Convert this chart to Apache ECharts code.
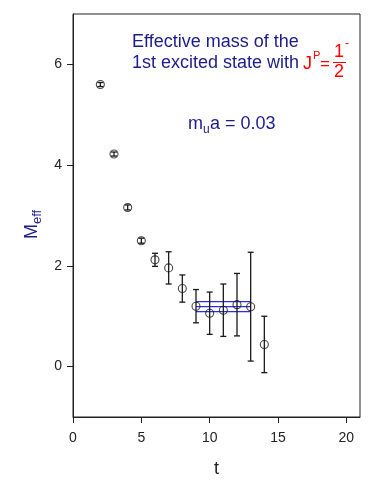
<!DOCTYPE html>
<html>
<head>
<meta charset="utf-8">
<script src="https://cdn.jsdelivr.net/npm/echarts@6/dist/echarts.min.js"></script>
<style>
  html, body { margin: 0; padding: 0; background: #fff; }
  #main { width: 382px; height: 491px; }
</style>
</head>
<body>
<div id="main"></div>
<script>
// effective mass data
var tVals = [2, 3, 4, 5, 6, 7, 8, 9, 10, 11, 12, 13, 14];
var meff = [5.60, 4.22, 3.16, 2.50, 2.12, 1.96, 1.55, 1.20, 1.06, 1.12, 1.23, 1.19, 0.44];
var errs = [0.04, 0.04, 0.05, 0.05, 0.13, 0.32, 0.27, 0.33, 0.42, 0.52, 0.62, 1.08, 0.56];

// plateau fit
var fitRange = [9, 13];
var fitMass = 1.19;
var fitErr = 0.10;

var xTicks = [0, 5, 10, 15, 20];
var yTicks = [0, 2, 4, 6];

var navy = '#1c1c8c';
var red = '#ff0000';
var ink = '#222';
var fontFam = '"Liberation Sans", Arial, sans-serif';

var points = tVals.map(function (t, i) { return [t, meff[i]]; });
var bars = tVals.map(function (t, i) { return [t, meff[i] - errs[i], meff[i] + errs[i]]; });

function bandLine(v) {
    return {
        type: 'line',
        data: [[fitRange[0], v], [fitRange[1], v]],
        symbol: 'none',
        silent: true,
        lineStyle: { color: '#2e2ee8', width: 1.2 },
        z: 1
    };
}

var myChart = echarts.init(document.getElementById('main'));

var option = {
    animation: false,
    grid: {
        left: 73, right: 22, top: 14, bottom: 74,
        show: true, borderColor: ink, borderWidth: 1, backgroundColor: 'transparent'
    },
    xAxis: {
        type: 'value', min: 0, max: 21, interval: 1,
        name: 't', nameLocation: 'middle', nameGap: 43,
        nameTextStyle: { color: ink, fontSize: 18, fontFamily: fontFam },
        axisLine: { onZero: false, lineStyle: { color: ink } },
        axisTick: { show: true, length: 6, customValues: xTicks, lineStyle: { color: ink } },
        axisLabel: { customValues: xTicks, color: ink, fontSize: 14, fontFamily: fontFam, margin: 14 },
        splitLine: { show: false }
    },
    yAxis: {
        type: 'value', min: -1, max: 7, interval: 1,
        axisLine: { show: true, onZero: false, lineStyle: { color: ink } },
        axisTick: { show: true, length: 6, customValues: yTicks, lineStyle: { color: ink } },
        axisLabel: { customValues: yTicks, color: ink, fontSize: 14, fontFamily: fontFam, margin: 11 },
        splitLine: { show: false }
    },
    graphic: [
        { type: 'text', x: 132, y: 42, style: { text: 'Effective mass of the', fill: navy, font: '18px ' + fontFam, verticalAlign: 'middle' } },
        { type: 'text', x: 132, y: 63, style: { text: '1st excited state with', fill: navy, font: '18px ' + fontFam, verticalAlign: 'middle' } },
        { type: 'text', x: 303, y: 64, style: { text: 'J', fill: red, font: '18px ' + fontFam, verticalAlign: 'middle' } },
        { type: 'text', x: 313, y: 56, style: { text: 'P', fill: red, font: '11px ' + fontFam, verticalAlign: 'middle' } },
        { type: 'text', x: 320, y: 64, style: { text: '=', fill: red, font: '17px ' + fontFam, verticalAlign: 'middle' } },
        { type: 'text', x: 339, y: 52, style: { text: '1', fill: red, font: '18px ' + fontFam, align: 'center', verticalAlign: 'middle' } },
        { type: 'line', shape: { x1: 333, y1: 62.5, x2: 346, y2: 62.5 }, style: { stroke: red, lineWidth: 1 } },
        { type: 'text', x: 339, y: 72, style: { text: '2', fill: red, font: '18px ' + fontFam, align: 'center', verticalAlign: 'middle' } },
        { type: 'text', x: 345, y: 44, style: { text: '-', fill: red, font: '12px ' + fontFam, verticalAlign: 'middle' } },
        { type: 'text', x: 188, y: 124, style: { text: 'm', fill: navy, font: '18px ' + fontFam, verticalAlign: 'middle' } },
        { type: 'text', x: 203, y: 130, style: { text: 'u', fill: navy, font: '12px ' + fontFam, verticalAlign: 'middle' } },
        { type: 'text', x: 210, y: 124, style: { text: 'a = 0.03', fill: navy, font: '18px ' + fontFam, verticalAlign: 'middle' } },
        {
            type: 'group', x: 32, y: 222, rotation: Math.PI / 2,
            children: [
                { type: 'text', x: -17, y: 0, style: { text: 'M', fill: navy, font: '18px ' + fontFam, verticalAlign: 'middle' } },
                { type: 'text', x: -2, y: 5, style: { text: 'eff', fill: navy, font: '13px ' + fontFam, verticalAlign: 'middle' } }
            ]
        }
    ],
    series: [
        bandLine(fitMass + fitErr),
        bandLine(fitMass),
        bandLine(fitMass - fitErr),
        {
            type: 'custom',
            data: bars,
            z: 3,
            renderItem: function (params, api) {
                var top = api.coord([api.value(0), api.value(2)]);
                var bot = api.coord([api.value(0), api.value(1)]);
                var w = 3;
                var st = { stroke: '#1a1a1a', lineWidth: 1.3 };
                return {
                    type: 'group',
                    children: [
                        { type: 'line', shape: { x1: top[0], y1: top[1], x2: bot[0], y2: bot[1] }, style: st },
                        { type: 'line', shape: { x1: top[0] - w, y1: top[1], x2: top[0] + w, y2: top[1] }, style: st },
                        { type: 'line', shape: { x1: bot[0] - w, y1: bot[1], x2: bot[0] + w, y2: bot[1] }, style: st }
                    ]
                };
            }
        },
        {
            type: 'scatter',
            data: points,
            symbol: 'circle',
            symbolSize: 8,
            z: 4,
            itemStyle: { color: 'rgba(255,255,255,0)', borderColor: '#1a1a1a', borderWidth: 1.1 }
        }
    ]
};

myChart.setOption(option);
</script>
</body>
</html>
